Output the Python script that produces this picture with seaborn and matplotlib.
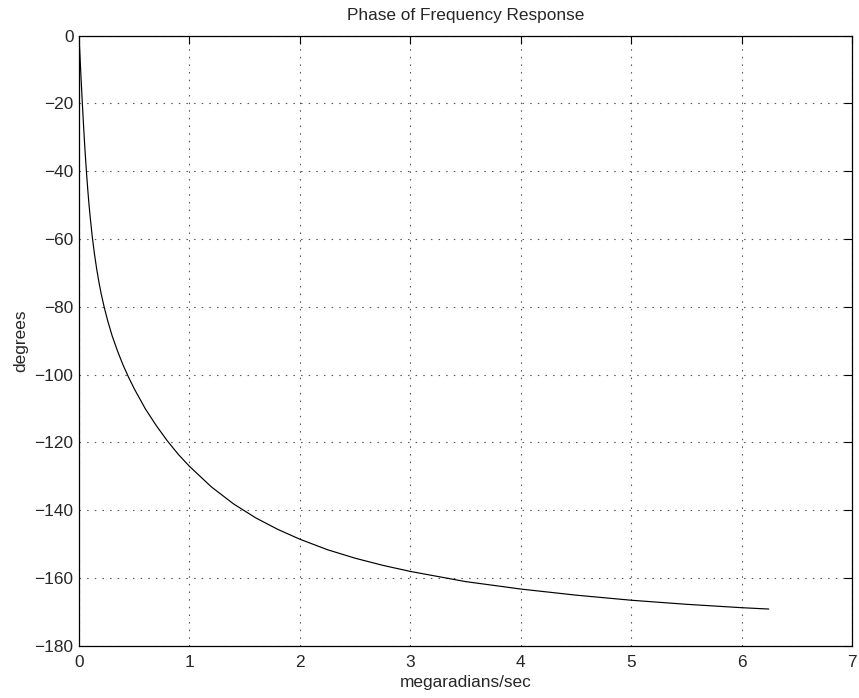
import numpy as np
import pandas as pd
import matplotlib
matplotlib.use("Agg")
import matplotlib.pyplot as plt
import seaborn as sns

# Frequency (megaradians/sec) and phase (degrees)
freq = [0.0, 0.01, 0.02, 0.03, 0.04, 0.05, 0.06, 0.07, 0.08, 0.09, 0.10,
        0.12, 0.14, 0.16, 0.18, 0.20, 0.23, 0.26, 0.30, 0.35, 0.40, 0.45,
        0.50, 0.60, 0.70, 0.80, 0.90, 1.0, 1.2, 1.4, 1.6, 1.8, 2.0, 2.25,
        2.5, 2.75, 3.0, 3.5, 4.0, 4.5, 5.0, 5.5, 6.0, 6.245]
phase = [0.0, -6.9, -13.6, -20.0, -26.0, -31.7, -36.8, -41.5, -45.8, -49.7,
         -53.2, -59.4, -64.5, -68.9, -72.7, -76.1, -80.4, -84.2, -88.6,
         -93.2, -97.3, -100.9, -104.2, -110.1, -115.1, -119.6, -123.6,
         -127.1, -133.2, -138.2, -142.3, -145.7, -148.6, -151.7, -154.2,
         -156.3, -158.1, -161.1, -163.3, -165.1, -166.6, -167.8, -168.8,
         -169.2]

xticks = [0, 1, 2, 3, 4, 5, 6, 7]
yticks = [0, -20, -40, -60, -80, -100, -120, -140, -160, -180]

df = pd.DataFrame({"freq": freq, "phase": phase})

sns.set_theme(style="white")
plt.rcParams["font.family"] = ["Liberation Sans", "DejaVu Sans"]
plt.rcParams["lines.scale_dashes"] = False
plt.rcParams["axes.unicode_minus"] = True

fs = 12.4
fig = plt.figure(figsize=(8.59, 6.98), dpi=100)
ax = fig.add_axes([0.092, 0.075, 0.900, 0.874])

sns.lineplot(data=df, x="freq", y="phase", ax=ax, color="black", lw=0.85,
             sort=False, estimator=None)

ax.set_xlim(0, 7)
ax.set_ylim(-180, 0)
ax.set_xticks(xticks)
ax.set_yticks(yticks)
ax.grid(True, color="0.35", linestyle=(0, (1.1, 4.4)), linewidth=0.8)

for s in ax.spines.values():
    s.set_color("black")
    s.set_linewidth(0.9)
ax.tick_params(direction="in", length=5.5, width=0.8, color="black",
               top=True, right=True, labelsize=fs)
ax.tick_params(axis="x", pad=6.5)
ax.tick_params(axis="y", pad=4)

ax.set_title("Phase of Frequency Response", fontsize=fs, pad=11)
ax.set_xlabel("megaradians/sec", fontsize=fs, labelpad=3.5)
ax.set_ylabel("degrees", fontsize=fs, labelpad=4.5)

fig.savefig("out.png", dpi=100)
